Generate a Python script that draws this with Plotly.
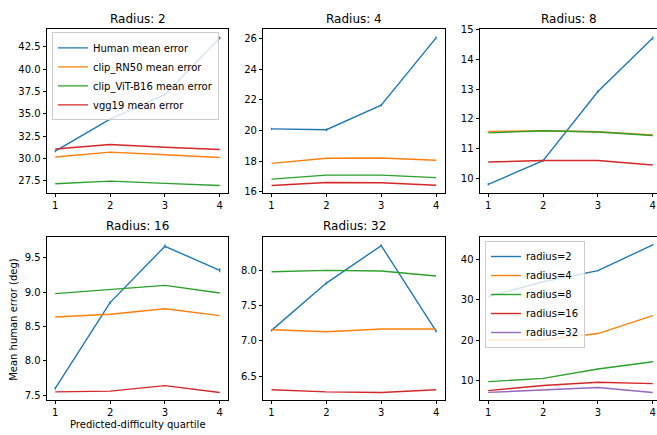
import plotly.graph_objects as go

quartiles = [1, 2, 3, 4]
radii = [2, 4, 8, 16, 32]
model_names = ["Human mean error", "clip_RN50 mean error", "clip_ViT-B16 mean error", "vgg19 mean error"]

r2_human = [30.8, 34.4, 37.15, 43.5]
r2_rn50 = [30.15, 30.7, 30.4, 30.1]
r2_vit = [27.15, 27.45, 27.2, 26.95]
r2_vgg = [31.05, 31.55, 31.25, 31.0]

r4_human = [20.1, 20.05, 21.65, 26.05]
r4_rn50 = [17.85, 18.18, 18.2, 18.05]
r4_vit = [16.82, 17.08, 17.08, 16.92]
r4_vgg = [16.4, 16.6, 16.58, 16.42]

r8_human = [9.8, 10.6, 12.92, 14.72]
r8_rn50 = [11.58, 11.6, 11.57, 11.46]
r8_vit = [11.53, 11.6, 11.56, 11.44]
r8_vgg = [10.55, 10.6, 10.6, 10.45]

r16_human = [7.6, 8.85, 9.67, 9.32]
r16_rn50 = [8.64, 8.68, 8.76, 8.66]
r16_vit = [8.98, 9.04, 9.1, 8.99]
r16_vgg = [7.55, 7.56, 7.64, 7.54]

r32_human = [7.15, 7.82, 8.35, 7.14]
r32_rn50 = [7.16, 7.13, 7.17, 7.17]
r32_vit = [7.98, 8.0, 7.99, 7.92]
r32_vgg = [6.31, 6.28, 6.27, 6.31]

# standard errors of human means (small)
r2_err = [0.12, 0.13, 0.14, 0.16]
r4_err = [0.07, 0.08, 0.08, 0.09]
r8_err = [0.04, 0.04, 0.05, 0.05]
r16_err = [0.02, 0.02, 0.03, 0.03]
r32_err = [0.015, 0.02, 0.02, 0.02]

panel_data = [
    (r2_human, r2_rn50, r2_vit, r2_vgg, r2_err),
    (r4_human, r4_rn50, r4_vit, r4_vgg, r4_err),
    (r8_human, r8_rn50, r8_vit, r8_vgg, r8_err),
    (r16_human, r16_rn50, r16_vit, r16_vgg, r16_err),
    (r32_human, r32_rn50, r32_vit, r32_vgg, r32_err),
]

colors = ["#1f77b4", "#ff7f0e", "#2ca02c", "#d62728", "#9467bd"]
FONT = "DejaVu Sans"
W, H = 657, 435
LW = 1.4

# pixel boxes of the six axes (left, right, top, bottom)
boxes = [
    (47, 228, 24.5, 192), (263.3, 445, 24.5, 192), (480, 657, 24.5, 192),
    (47, 228, 236.7, 403.3), (263.3, 445, 236.7, 403.3), (480, 657, 236.7, 403.3),
]
px_per_unit = (228 - 47) / 3.3

fig = go.Figure()


def yrange(series_list, errs_list):
    lo = min(min(v - e for v, e in zip(s, er)) for s, er in zip(series_list, errs_list))
    hi = max(max(v + e for v, e in zip(s, er)) for s, er in zip(series_list, errs_list))
    pad = 0.05 * (hi - lo)
    return [lo - pad, hi + pad]


zeros = [0, 0, 0, 0]
ranges = []
for i, (hu, rn, vi, vg, er) in enumerate(panel_data):
    k = i + 1
    series = [hu, rn, vi, vg]
    errs = [er, zeros, zeros, zeros]
    for j, (s, e) in enumerate(zip(series, errs)):
        fig.add_trace(go.Scatter(
            x=quartiles, y=s, mode="lines", name=model_names[j],
            line=dict(color=colors[j], width=LW),
            error_y=dict(type="data", array=e, visible=(j == 0), width=0, thickness=1.2, color=colors[j]),
            showlegend=(i == 0), legend="legend",
            xaxis="x" if k == 1 else f"x{k}", yaxis="y" if k == 1 else f"y{k}",
        ))
    ranges.append(yrange(series, errs))

# panel 6: human errors per radius
hs = [p[0] for p in panel_data]
es = [p[4] for p in panel_data]
for j, (r, s, e) in enumerate(zip(radii, hs, es)):
    fig.add_trace(go.Scatter(
        x=quartiles, y=s, mode="lines", name=f"radius={r}",
        line=dict(color=colors[j], width=LW),
        error_y=dict(type="data", array=e, width=0, thickness=1.2, color=colors[j]),
        showlegend=True, legend="legend2", xaxis="x6", yaxis="y6",
    ))
ranges.append(yrange(hs, es))

dticks = [2.5, 2, 1, 0.5, 0.5, 10]
fmts = [".1f", "d", "d", ".1f", ".1f", "d"]

layout = dict(
    width=W, height=H, margin=dict(l=0, r=0, t=0, b=0),
    paper_bgcolor="white", plot_bgcolor="white",
    font=dict(family=FONT, size=10, color="black"),
    showlegend=True,
)
for idx, (l, r, t, b) in enumerate(boxes):
    k = idx + 1
    xn = "xaxis" if k == 1 else f"xaxis{k}"
    yn = "yaxis" if k == 1 else f"yaxis{k}"
    width_px = r - l
    xr = [0.85, 0.85 + width_px / px_per_unit]
    layout[xn] = dict(
        domain=[l / W, r / W], anchor="y" if k == 1 else f"y{k}",
        range=xr, tickvals=quartiles, ticks="outside", ticklen=3.5, tickwidth=0.8,
        tickcolor="black", showline=True, linecolor="black", linewidth=0.8, mirror=True,
        showgrid=False, zeroline=False, tickfont=dict(size=10, family=FONT, color="black"),
    )
    layout[yn] = dict(
        domain=[1 - b / H, 1 - t / H], anchor="x" if k == 1 else f"x{k}",
        range=ranges[idx], dtick=dticks[idx], tick0=0, tickformat=fmts[idx],
        ticks="outside", ticklen=3.5, tickwidth=0.8, tickcolor="black",
        showline=True, linecolor="black", linewidth=0.8, mirror=(k not in (3, 6)),
        showgrid=False, zeroline=False, tickfont=dict(size=10, family=FONT, color="black"),
    )

layout["legend"] = dict(
    x=52 / W, y=1 - 28 / H, xanchor="left", yanchor="top",
    bgcolor="rgba(255,255,255,0.8)", bordercolor="#cccccc", borderwidth=1,
    font=dict(size=10, family=FONT, color="black"), tracegroupgap=0, itemwidth=30,
)
layout["legend2"] = dict(
    x=485 / W, y=1 - 241 / H, xanchor="left", yanchor="top",
    bgcolor="rgba(255,255,255,0.8)", bordercolor="#cccccc", borderwidth=1,
    font=dict(size=10, family=FONT, color="black"), tracegroupgap=0, itemwidth=30,
)

annotations = []
title_y = [14, 14, 14, 226, 226, 226]
for idx, (l, r, t, b) in enumerate(boxes[:5]):
    cx = (l + r) / 2
    annotations.append(dict(
        text=f"Radius: {radii[idx]}", x=cx / W, y=1 - title_y[idx] / H, xref="paper", yref="paper",
        xanchor="center", yanchor="middle", showarrow=False,
        font=dict(size=12, family=FONT, color="black"),
    ))
annotations.append(dict(
    text="Predicted-difficulty quartile", x=137.5 / W, y=1 - 428 / H, xref="paper", yref="paper",
    xanchor="center", yanchor="middle", showarrow=False, font=dict(size=10, family=FONT, color="black"),
))
annotations.append(dict(
    text="Mean human error (deg)", x=13.5 / W, y=1 - 321 / H, xref="paper", yref="paper",
    xanchor="center", yanchor="middle", showarrow=False, textangle=-90,
    font=dict(size=10, family=FONT, color="black"),
))
layout["annotations"] = annotations

fig.update_layout(**layout)
fig.write_html(
    "out.html",
    config={"displayModeBar": False},
    post_script="document.body.style.margin='0';document.body.style.overflow='hidden';",
)
